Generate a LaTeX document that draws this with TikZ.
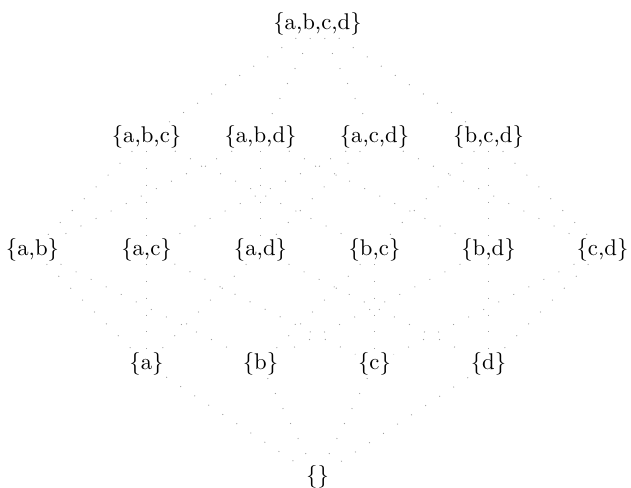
\documentclass[tikz,border=0pt]{standalone}
\begin{document}
\begin{tikzpicture}[x=0.44pt,y=-0.44pt,
  setnode/.style={inner sep=1pt},
  edge/.style={draw=gray!75,line width=0.4pt,dash pattern=on 0.4pt off 7pt}]
\useasboundingbox (0,0) rectangle (631,487);
\node[setnode] (abcd) at (317.5,24) {\{a,b,c,d\}};
\node[setnode] (abc) at (146.5,137) {\{a,b,c\}};
\node[setnode] (abd) at (260.5,137) {\{a,b,d\}};
\node[setnode] (acd) at (374.5,137) {\{a,c,d\}};
\node[setnode] (bcd) at (488.5,137) {\{b,c,d\}};
\node[setnode] (ab) at (32.5,250) {\{a,b\}};
\node[setnode] (ac) at (146.5,250) {\{a,c\}};
\node[setnode] (ad) at (260.5,250) {\{a,d\}};
\node[setnode] (bc) at (374.5,250) {\{b,c\}};
\node[setnode] (bd) at (488.5,250) {\{b,d\}};
\node[setnode] (cd) at (602.5,250) {\{c,d\}};
\node[setnode] (a) at (146.5,364) {\{a\}};
\node[setnode] (b) at (260.5,364) {\{b\}};
\node[setnode] (c) at (374.5,364) {\{c\}};
\node[setnode] (d) at (488.5,364) {\{d\}};
\node[setnode] (e) at (317.5,477) {\{\}};
\foreach \s/\t in {abcd/abc,abcd/abd,abcd/acd,abcd/bcd,
  abc/ab,abc/ac,abc/bc,abd/ab,abd/ad,abd/bd,acd/ac,acd/ad,acd/cd,bcd/bc,bcd/bd,bcd/cd,
  ab/a,ab/b,ac/a,ac/c,ad/a,ad/d,bc/b,bc/c,bd/b,bd/d,cd/c,cd/d,
  a/e,b/e,c/e,d/e}
  \draw[edge] (\s) -- (\t);
\end{tikzpicture}
\end{document}
